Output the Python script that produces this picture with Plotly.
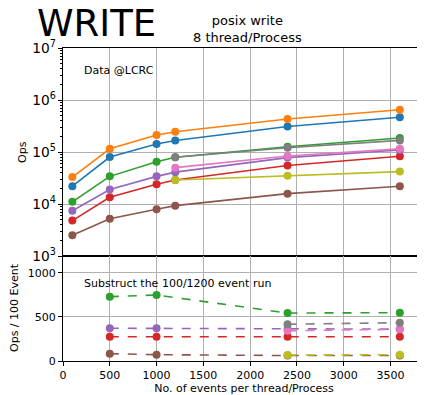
import plotly.graph_objects as go
from plotly.subplots import make_subplots

# ---- data ----
x_all = [100, 500, 1000, 1200, 2400, 3600]
x_late = [1200, 2400, 3600]
blue = [22000, 80000, 142000, 166000, 310000, 466000]
orange = [33000, 115000, 213000, 245000, 431000, 650000]
green = [11000, 34000, 65000, 79000, 126000, 186000]
red = [4800, 13500, 24000, 29000, 55000, 83000]
purple = [7400, 19000, 34000, 41000, 78000, 109000]
brown = [2500, 5200, 7900, 9300, 15800, 22000]
pink = [50000, 84000, 115000]
gray = [79000, 121000, 167000]
olive = [29000, 35000, 42000]

x_diff = [500, 1000, 2400, 3600]
x_diff_late = [2400, 3600]
green_d = [731, 750, 545, 549]
red_d = [276, 276, 276, 276]
purple_d = [372, 372, 366, 362]
brown_d = [83, 72, 62, 62]
pink_d = [344, 360]
gray_d = [417, 435]
olive_d = [68, 72]

x_ticks = [0, 500, 1000, 1500, 2000, 2500, 3000, 3500]

C = {"blue": "#1f77b4", "orange": "#ff7f0e", "green": "#2ca02c", "red": "#d62728",
     "purple": "#9467bd", "brown": "#8c564b", "pink": "#e377c2", "gray": "#7f7f7f",
     "olive": "#bcbd22"}

FONT = "DejaVu Sans"

fig = make_subplots(rows=2, cols=1, shared_xaxes=True, vertical_spacing=0,
                    row_heights=[208, 105])

top = [("blue", x_all, blue), ("orange", x_all, orange), ("green", x_all, green),
       ("red", x_all, red), ("purple", x_all, purple), ("brown", x_all, brown),
       ("pink", x_late, pink), ("gray", x_late, gray), ("olive", x_late, olive)]
for name, xs, ys in top:
    fig.add_trace(go.Scatter(x=xs, y=ys, mode="lines+markers", name=name,
                             line=dict(color=C[name], width=1.6),
                             marker=dict(color=C[name], size=8)), row=1, col=1)

bot = [("green", x_diff, green_d), ("red", x_diff, red_d), ("purple", x_diff, purple_d),
       ("brown", x_diff, brown_d), ("pink", x_diff_late, pink_d),
       ("gray", x_diff_late, gray_d), ("olive", x_diff_late, olive_d)]
for name, xs, ys in bot:
    fig.add_trace(go.Scatter(x=xs, y=ys, mode="lines+markers", name=name + " diff",
                             line=dict(color=C[name], width=1.6, dash="dash"),
                             marker=dict(color=C[name], size=8)), row=2, col=1)

axis_common = dict(showline=True, linecolor="black", linewidth=1,
                   gridcolor="#b0b0b0", gridwidth=0.8, zeroline=False,
                   tickfont=dict(family=FONT, size=11, color="black"),
                   ticks="outside", ticklen=4, tickcolor="black")

fig.update_xaxes(range=[0, 3869], tickvals=x_ticks, mirror=True, **axis_common)
fig.update_xaxes(showticklabels=False, ticks="", row=1, col=1)
fig.update_xaxes(title=dict(text="No. of events per thread/Process",
                            font=dict(family=FONT, size=11, color="black"), standoff=2),
                 row=2, col=1)
fig.update_yaxes(type="log", range=[3, 7], dtick=1, exponentformat="power",
                 minor=dict(ticks="outside", ticklen=2, tickcolor="black", dtick="D1",
                            showgrid=False),
                 row=1, col=1, **axis_common)
fig.update_yaxes(range=[0, 1193], tickvals=[0, 500, 1000], row=2, col=1, **axis_common)

fig.add_annotation(text="WRITE", xref="paper", yref="paper",
                   x=(35 - 63) / 362, y=(361 - 24) / 313, xanchor="left", yanchor="middle",
                   showarrow=False, font=dict(family=FONT, size=37, color="black"))
fig.add_annotation(text="posix write<br>8 thread/Process", xref="paper", yref="paper",
                   x=(247 - 63) / 362, y=(361 - 29.5) / 313, xanchor="center", yanchor="middle",
                   showarrow=False, font=dict(family=FONT, size=13, color="black"))
fig.add_annotation(text="Ops", xref="paper", yref="paper", textangle=-90,
                   x=(22 - 63) / 362, y=(361 - 152) / 313, xanchor="center", yanchor="middle",
                   showarrow=False, font=dict(family=FONT, size=11, color="black"))
fig.add_annotation(text="Ops / 100 Event", xref="paper", yref="paper", textangle=-90,
                   x=(14 - 63) / 362, y=(361 - 308) / 313, xanchor="center", yanchor="middle",
                   showarrow=False, font=dict(family=FONT, size=11, color="black"))
fig.add_annotation(text="Data @LCRC", xref="x", yref="y", x=208, y=6.56,
                   xanchor="left", yanchor="middle", showarrow=False,
                   font=dict(family=FONT, size=11, color="black"))
fig.add_annotation(text="Substruct the 100/1200 event run", xref="x2", yref="y2",
                   x=208, y=878, xanchor="left", yanchor="middle", showarrow=False,
                   font=dict(family=FONT, size=11, color="black"))

# page body has an 8px default margin; figure sized to fill the rest of the window
fig.update_layout(width=417, height=387,
                  margin=dict(l=55, r=0, t=40, b=34, autoexpand=False),
                  plot_bgcolor="white", paper_bgcolor="white", showlegend=False,
                  font=dict(family=FONT, size=11, color="black"))

fig.write_html("out.html")
